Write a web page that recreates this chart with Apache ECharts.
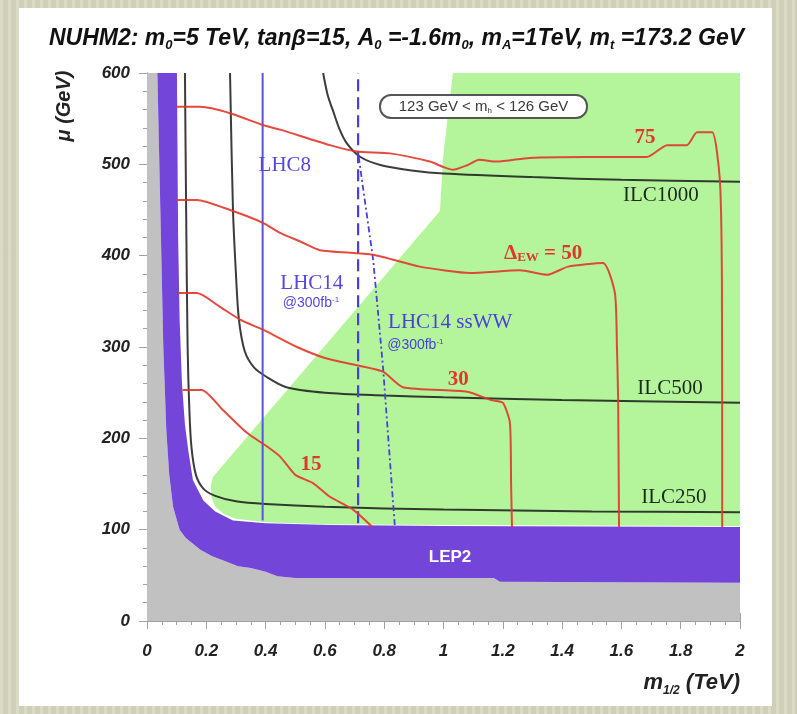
<!DOCTYPE html>
<html>
<head>
<meta charset="utf-8">
<script src="https://cdn.jsdelivr.net/npm/echarts@6/dist/echarts.min.js"></script>
<style>
html, body { margin: 0; padding: 0; }
body {
  width: 797px; height: 714px; position: relative; overflow: hidden;
  background: #d5d6bd;
  background-image: repeating-linear-gradient(90deg, rgba(255,255,255,0.14) 0 3px, rgba(0,0,0,0.03) 3px 8px);
}
#panel { position: absolute; left: 19px; top: 8px; width: 753px; height: 698px; background: #fff; }
#chart { position: absolute; left: 0; top: 0; width: 797px; height: 714px; }
</style>
</head>
<body>
<div id="panel"></div>
<div id="chart"></div>
<script>
// regions, [m1/2 (TeV), mu (GeV)]
const grayRegion = [[0, 0], [2, 0], [2, 42], [1.19, 43], [1.17, 47], [0.5, 47], [0.44, 49], [0.40, 54],
  [0.35, 58], [0.307, 60], [0.26, 66], [0.22, 71], [0.18, 78], [0.131, 91], [0.11, 100], [0.088, 125],
  [0.075, 160], [0.065, 210], [0.055, 300], [0.045, 450], [0.035, 600], [0, 600]]

const purpleRegion = [[0.035, 600], [0.045, 450], [0.055, 300], [0.065, 210], [0.075, 160], [0.088, 125],
  [0.11, 100], [0.131, 91], [0.18, 78], [0.22, 71], [0.26, 66], [0.307, 60], [0.35, 58], [0.40, 54],
  [0.44, 49], [0.5, 47], [1.17, 47], [1.19, 43], [2, 42], [2, 103], [1.0, 104], [0.617, 105], [0.4, 107],
  [0.29, 110], [0.23, 120], [0.19, 132], [0.155, 154], [0.14, 185], [0.128, 215], [0.118, 260],
  [0.11, 330], [0.105, 420], [0.101, 600]]

const greenRegion = [[1.032, 600], [2, 600], [2, 104], [1.0, 105], [0.6, 106], [0.4, 108], [0.3, 112],
  [0.26, 117], [0.23, 125], [0.218, 135], [0.215, 148], [0.223, 158], [0.988, 449], [0.998, 505],
  [1.015, 555]]

// ILC reach
const ilc250 = [[0.128, 600], [0.132, 450], [0.137, 300], [0.143, 230], [0.15, 190], [0.165, 160],
  [0.19, 145], [0.23, 137], [0.3, 131], [0.4, 128], [0.6, 125], [1.0, 122], [1.5, 120], [2, 119]]
const ilc500 = [[0.28, 600], [0.29, 450], [0.3, 380], [0.31, 330], [0.33, 295], [0.36, 278], [0.4, 268],
  [0.47, 256], [0.6, 250], [0.8, 247], [1.0, 245], [1.4, 242], [2.0, 239]]
const ilc1000 = [[0.594, 600], [0.61, 575], [0.627, 559], [0.65, 538], [0.674, 523], [0.72, 508],
  [0.79, 499], [0.9, 493], [1.0, 490], [1.3, 486], [1.6, 483], [2.0, 481]]

// LHC reach
const lhc8 = [[0.39, 110], [0.39, 600]]
const lhc14 = [[0.712, 107], [0.712, 600]]
const lhc14ssww = [[0.714, 508], [0.763, 395], [0.796, 278], [0.836, 103]]

// Delta_EW contours
const ew15 = [[0.12, 253], [0.185, 253], [0.256, 231], [0.337, 206], [0.405, 191], [0.449, 180],
  [0.5, 160], [0.56, 151], [0.617, 136], [0.695, 122], [0.76, 103]]
const ew30 = [[0.105, 359], [0.169, 359], [0.246, 344], [0.314, 330], [0.391, 319], [0.506, 300],
  [0.6, 288], [0.708, 280], [0.796, 273], [0.863, 256], [1.08, 251], [1.16, 242], [1.2, 239],
  [1.224, 217], [1.228, 150], [1.231, 103]]
const ew50 = [[0.1, 461], [0.169, 461], [0.28, 450], [0.391, 436], [0.449, 425], [0.52, 415],
  [0.583, 406], [0.762, 401], [0.92, 388], [1.09, 381], [1.258, 384], [1.349, 379], [1.42, 388],
  [1.538, 392], [1.578, 359], [1.585, 300], [1.589, 242], [1.592, 103]]
const ew75 = [[0.1, 563], [0.18, 563], [0.28, 556], [0.391, 543], [0.449, 538], [0.617, 521],
  [0.708, 514], [0.82, 512], [0.954, 503], [1.0, 497], [1.032, 494], [1.08, 499], [1.12, 505],
  [1.18, 503], [1.29, 507], [1.48, 508], [1.686, 508], [1.754, 521], [1.821, 521], [1.855, 535],
  [1.906, 535], [1.932, 483], [1.939, 373], [1.94, 103]]

// annotations
const annoText = ['LHC8', 'LHC14', '@300fb{sup|-1}', 'LHC14 ssWW', '@300fb{sup|-1}', '75',
  'Δ{sub|EW} = 50', '30', '15', 'ILC1000', 'ILC500', 'ILC250', 'LEP2']
const annoX = [0.465, 0.556, 0.553, 0.813, 0.81, 1.68, 1.336, 1.05, 0.553, 1.733, 1.764, 1.777, 1.022]
const annoY = [499, 370, 348, 327, 302, 529, 402, 264, 171, 466, 255, 135, 70]
const annoKind = ['lhc', 'lhc', 'lumi', 'lhcL', 'lumiL', 'ew', 'ew', 'ew', 'ew', 'ilc', 'ilc', 'ilc', 'lep']

const RED = '#e2362a'
const BLUE = '#4a3fdc'
const kindStyle = {
  lhc: { font: '21px "Liberation Serif"', fill: '#5548e0', align: 'center' },
  lhcL: { font: '21px "Liberation Serif"', fill: BLUE, align: 'left' },
  lumi: { font: '14px "Liberation Sans"', fill: '#5548e0', align: 'center' },
  lumiL: { font: '14px "Liberation Sans"', fill: BLUE, align: 'left' },
  ew: { font: 'bold 21px "Liberation Serif"', fill: RED, align: 'center' },
  ilc: { font: '21px "Liberation Serif"', fill: '#1c2a1c', align: 'center' },
  lep: { font: 'bold 17px "Liberation Sans"', fill: '#ffffff', align: 'center' }
}

function region(pts, color) {
  return {
    type: 'custom',
    data: pts,
    silent: true,
    animation: false,
    z: 1,
    renderItem(params, api) {
      if (params.dataIndex !== 0) return
      return {
        type: 'polygon',
        shape: { points: pts.map((p) => api.coord(p)) },
        style: { fill: color }
      }
    }
  }
}

function curve(data, color, width, type, smooth, opacity) {
  return {
    type: 'line',
    data,
    symbol: 'none',
    smooth,
    silent: true,
    animation: false,
    z: 3,
    lineStyle: { color, width, type, opacity }
  }
}

const labelSeries = {
  type: 'custom',
  data: annoX.map((x, i) => [x, annoY[i], i]),
  silent: true,
  animation: false,
  z: 5,
  renderItem(params, api) {
    const i = api.value(2)
    const p = api.coord([api.value(0), api.value(1)])
    const st = kindStyle[annoKind[i]]
    return {
      type: 'text',
      x: p[0],
      y: p[1],
      style: {
        text: annoText[i],
        font: st.font,
        fill: st.fill,
        align: st.align,
        verticalAlign: 'middle',
        rich: {
          sup: { fontSize: 8, fill: st.fill, verticalAlign: 'top', lineHeight: 8 },
          sub: { fontSize: 13, fill: st.fill, fontWeight: 'bold', fontFamily: 'Liberation Serif', verticalAlign: 'bottom', lineHeight: 12 }
        }
      }
    }
  }
}

const tickFont = { color: '#222', fontSize: 17, fontWeight: 'bold', fontStyle: 'italic', fontFamily: 'Liberation Sans' }
const frame = { show: true, lineStyle: { color: '#a0a0a0', width: 1 } }
const ticks = { show: true, inside: true, length: 8, lineStyle: { color: '#a0a0a0' } }

function xAx(pos, labels) {
  return {
    type: 'value', min: 0, max: 2, interval: 0.2, position: pos,
    axisLine: frame, axisTick: ticks,
    minorTick: { show: true, splitNumber: 4, length: 4, lineStyle: { color: '#a0a0a0' } },
    splitLine: { show: false },
    axisLabel: labels ? { margin: 22, ...tickFont } : { show: false }
  }
}
function yAx(pos, labels) {
  return {
    type: 'value', min: 0, max: 600, interval: 100, position: pos,
    axisLine: frame, axisTick: ticks,
    minorTick: { show: true, splitNumber: 5, length: 4, lineStyle: { color: '#a0a0a0' } },
    splitLine: { show: false },
    axisLabel: labels ? { margin: 17, ...tickFont } : { show: false }
  }
}

const chart = echarts.init(document.getElementById('chart'))
chart.setOption({
  backgroundColor: 'transparent',
  animation: false,
  title: {
    left: 44, top: 22,
    text: '{b|NUHM2: m}{s|0}{b|=5 TeV, tanβ=15, A}{s|0}{b| =-1.6m}{s|0}{b|, m}{s|A}{b|=1TeV, m}{s|t}{b| =173.2 GeV}',
    textStyle: {
      rich: {
        b: { fontFamily: '"Liberation Sans Narrow", "Liberation Sans"', fontSize: 23, fontWeight: 'bold', fontStyle: 'italic', color: '#111', lineHeight: 25, verticalAlign: 'top' },
        s: { fontFamily: '"Liberation Sans Narrow", "Liberation Sans"', fontSize: 13, fontWeight: 'bold', fontStyle: 'italic', color: '#111', lineHeight: 13, verticalAlign: 'bottom' }
      }
    }
  },
  grid: { left: 147, right: 57, top: 73, bottom: 93 },
  xAxis: [xAx('bottom', true), xAx('top', false)],
  yAxis: [yAx('left', true), yAx('right', false)],
  series: [
    region(grayRegion, '#c1c1c1'),
    region(greenRegion, '#b4f59c'),
    region(purpleRegion, '#7345d8'),
    curve(ilc250, '#1a1a1a', 2, 'solid', 0.3, 0.85),
    curve(ilc500, '#1a1a1a', 2, 'solid', 0.3, 0.85),
    curve(ilc1000, '#1a1a1a', 2, 'solid', 0.3, 0.85),
    curve(lhc8, '#5a52e2', 2, 'solid', false, 1),
    curve(lhc14, BLUE, 2.2, [12, 6], false, 1),
    curve(lhc14ssww, BLUE, 1.8, [6, 3, 2, 3], false, 1),
    curve(ew15, RED, 2, 'solid', 0.2, 0.9),
    curve(ew30, RED, 2, 'solid', 0.2, 0.9),
    curve(ew50, RED, 2, 'solid', 0.2, 0.9),
    curve(ew75, RED, 2, 'solid', 0.2, 0.9),
    labelSeries
  ],
  graphic: [
    {
      type: 'text', x: 64, y: 106, rotation: Math.PI / 2, z: 100,
      style: { text: 'μ (GeV)', font: 'italic bold 20px "Liberation Sans"', fill: '#222', align: 'center', verticalAlign: 'middle' }
    },
    {
      type: 'text', x: 740, y: 684, z: 100,
      style: {
        text: '{b|m}{s|1/2}{b| (TeV)}', align: 'right', verticalAlign: 'middle',
        rich: {
          b: { font: 'italic bold 22px "Liberation Sans"', fill: '#222', lineHeight: 25, verticalAlign: 'top' },
          s: { font: 'italic bold 12px "Liberation Sans"', fill: '#222', lineHeight: 12, verticalAlign: 'bottom' }
        }
      }
    },
    {
      type: 'group', x: 380, y: 95, z: 100,
      children: [
        { type: 'rect', z: 100, shape: { x: 0, y: 0, width: 207, height: 23, r: 11 }, style: { fill: '#fff', stroke: '#555', lineWidth: 2 } },
        {
          type: 'text', z: 101, x: 103.5, y: 12,
          style: {
            text: '123 GeV < m{s|h} < 126 GeV', align: 'center', verticalAlign: 'middle',
            font: '15px "Liberation Sans"', fill: '#3a3a3a',
            rich: { s: { font: '8px "Liberation Sans"', fill: '#3a3a3a', verticalAlign: 'bottom', lineHeight: 9 } }
          }
        }
      ]
    }
  ]
})
</script>
</body>
</html>
